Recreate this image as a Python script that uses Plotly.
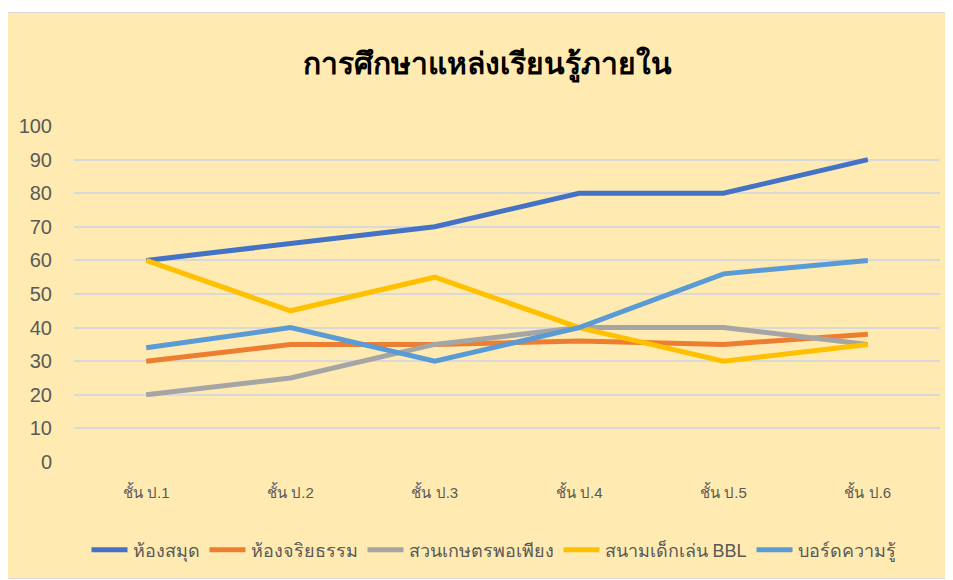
import plotly.graph_objects as go

categories = ["ชั้น ป.1", "ชั้น ป.2", "ชั้น ป.3", "ชั้น ป.4", "ชั้น ป.5", "ชั้น ป.6"]
library = [60, 65, 70, 80, 80, 90]
ethics_room = [30, 35, 35, 36, 35, 38]
garden = [20, 25, 35, 40, 40, 35]
playground = [60, 45, 55, 40, 30, 35]
board = [34, 40, 30, 40, 56, 60]

series_names = ["ห้องสมุด", "ห้องจริยธรรม", "สวนเกษตรพอเพียง", "สนามเด็กเล่น BBL", "บอร์ดความรู้"]
series_values = [library, ethics_room, garden, playground, board]
colors = ["#4472C4", "#ED7D31", "#A5A5A5", "#FFC000", "#5B9BD5"]

FONT = "Liberation Sans, Noto Sans, sans-serif"

fig = go.Figure()
for name, vals, c in zip(series_names, series_values, colors):
    fig.add_trace(go.Scatter(x=categories, y=vals, mode="lines", name=name,
                             line=dict(color=c, width=5)))

OFF = 8  # page body margin
W, H = 953, 580
# target page-pixel positions of plot area
PL, PR, PT, PB = 74, 940, 126, 462
L = PL - OFF
T = PT - OFF
R = W - (PR - OFF)
B = H - (PB - OFF)
pw, ph = W - L - R, H - T - B

def px_x(x):
    return (x - OFF - L) / pw

def px_y(y):
    return (H - B - (y - OFF)) / ph

fig.add_shape(type="rect", xref="paper", yref="paper",
              x0=px_x(4.5), x1=px_x(965), y0=px_y(578.5), y1=px_y(12.5),
              fillcolor="#FFEBB1", line=dict(color="#D9D9D9", width=1), layer="below")

fig.update_layout(
    width=W, height=H,
    margin=dict(l=L, r=R, t=T, b=B),
    paper_bgcolor="white",
    plot_bgcolor="rgba(0,0,0,0)",
    font=dict(family=FONT, color="#595959"),
    title=dict(text="<b>การศึกษาแหล่งเรียนรู้ภายใน</b>", x=px_x(487), xref="paper", xanchor="center",
               y=1 - (63 - OFF) / H, yanchor="middle",
               font=dict(size=30, color="black", family=FONT)),
    xaxis=dict(showgrid=False, zeroline=False, showline=False, ticks="",
               ticklabelstandoff=20,
               tickfont=dict(size=15, color="#595959"), range=[-0.5, 5.5]),
    yaxis=dict(range=[0, 100], dtick=10, showgrid=True, gridcolor="#D9D9D9", gridwidth=2,
               zeroline=False, showline=False, ticks="", ticklabelstandoff=21,
               tickfont=dict(size=20, color="#595959")),
    legend=dict(orientation="h", x=px_x(494), xanchor="center", y=px_y(550), yanchor="middle",
                itemwidth=36,
                font=dict(size=18, color="#595959"), bgcolor="rgba(0,0,0,0)"),
)

fig.write_html("out.html")
